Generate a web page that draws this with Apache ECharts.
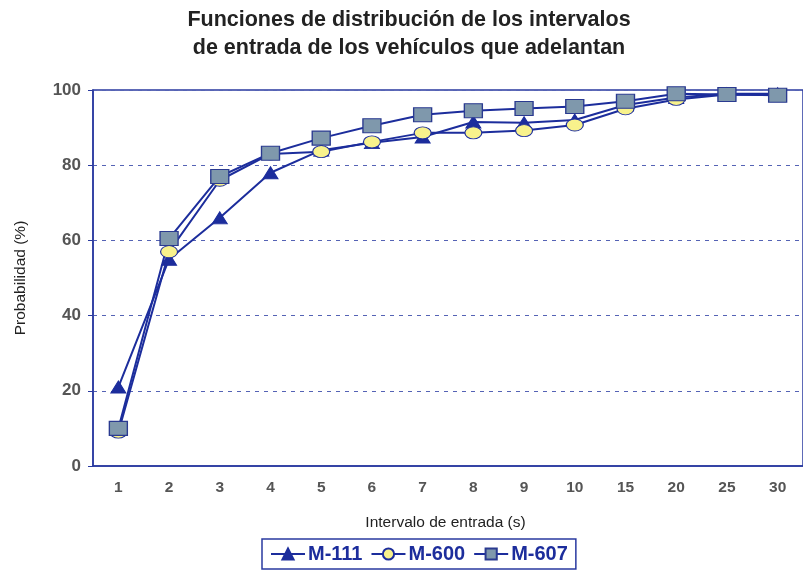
<!DOCTYPE html>
<html><head><meta charset="utf-8">
<script src="https://cdn.jsdelivr.net/npm/echarts@6/dist/echarts.min.js"></script>
<style>html,body{margin:0;padding:0;background:#fff}#c{width:803px;height:583px}</style>
</head><body><div id="c"></div>
<script>
const categories = ['1','2','3','4','5','6','7','8','9','10','15','20','25','30'];
const m111 = [21, 55, 66, 78, 84, 86, 87.5, 91.5, 91.3, 92, 96, 98, 99, 99];
const m600 = [9, 57, 76, 83, 83.6, 86.2, 88.6, 88.6, 89.2, 90.7, 95, 97.5, 98.8, 98.7];
const m607 = [10, 60.5, 77, 83.2, 87.2, 90.5, 93.4, 94.5, 95.1, 95.6, 97, 99, 98.8, 98.6];
const yTicks = [0, 20, 40, 60, 80, 100];

const blue = '#1c2d9c';
const chart = echarts.init(document.getElementById('c'));
chart.setOption({
  animation: false,
  title: {
    text: 'Funciones de distribución de los intervalos\nde entrada de los vehículos que adelantan',
    left: 404, top: 1, textAlign: 'center',
    textStyle: {fontFamily: 'Liberation Sans, Arial', fontSize: 21.5, fontWeight: 'bold', color: '#222', lineHeight: 28}
  },
  grid: {left: 93, right: -7, top: 90, bottom: 117, show: true, borderColor: '#2a3aa0', borderWidth: 1.5},
  legend: {
    left: 262, top: 539, orient: 'horizontal',
    borderColor: '#2a3aa0', borderWidth: 1.5, padding: [5, 8, 5, 8], itemGap: 8,
    itemWidth: 34, itemHeight: 14,
    textStyle: {fontFamily: 'Liberation Sans, Arial', fontSize: 20, fontWeight: 'bold', color: blue, padding: [0,0,0,-2]},
    data: ['M-111', 'M-600', 'M-607']
  },
  xAxis: {
    type: 'category', data: categories, boundaryGap: true,
    name: 'Intervalo de entrada (s)', nameLocation: 'middle', nameGap: 49,
    nameTextStyle: {fontFamily: 'Liberation Sans, Arial', fontSize: 15.5, color: '#222', padding: [0, 0, 0, -5]},
    axisLine: {lineStyle: {color: '#2a3aa0', width: 1.5}},
    axisTick: {alignWithLabel: true, length: 4, lineStyle: {color: '#2a3aa0'}},
    axisLabel: {fontFamily: 'Liberation Sans, Arial', fontSize: 15.5, fontWeight: 'bold', color: '#555', margin: 14}
  },
  yAxis: {
    type: 'value', min: 0, max: 100, interval: 20,
    name: 'Probabilidad (%)', nameLocation: 'middle', nameGap: 64,
    nameTextStyle: {fontFamily: 'Liberation Sans, Arial', fontSize: 15.5, color: '#222'},
    axisLine: {show: true, lineStyle: {color: '#2a3aa0', width: 1.5}},
    axisTick: {show: true, length: 5, lineStyle: {color: '#2a3aa0'}},
    axisLabel: {fontFamily: 'Liberation Sans, Arial', fontSize: 17, fontWeight: 'bold', color: '#555', margin: 12,
      formatter: v => yTicks.includes(v) ? String(v) : ''},
    splitLine: {show: true, lineStyle: {color: '#5563b5', type: [4, 5], width: 1.2}}
  },
  series: [
    {name: 'M-111', type: 'line', data: m111, symbol: 'triangle', symbolSize: [15, 12],
     lineStyle: {color: blue, width: 2}, itemStyle: {color: blue, borderColor: blue, borderWidth: 1}},
    {name: 'M-600', type: 'line', data: m600, symbol: 'circle', symbolSize: [17, 12],
     lineStyle: {color: blue, width: 2}, itemStyle: {color: '#f8f28c', borderColor: blue, borderWidth: 1}},
    {name: 'M-607', type: 'line', data: m607, symbol: 'rect', symbolSize: [18, 14],
     lineStyle: {color: blue, width: 2}, itemStyle: {color: '#7f98ac', borderColor: '#2a3a90', borderWidth: 1.2}}
  ]
});
</script></body></html>
